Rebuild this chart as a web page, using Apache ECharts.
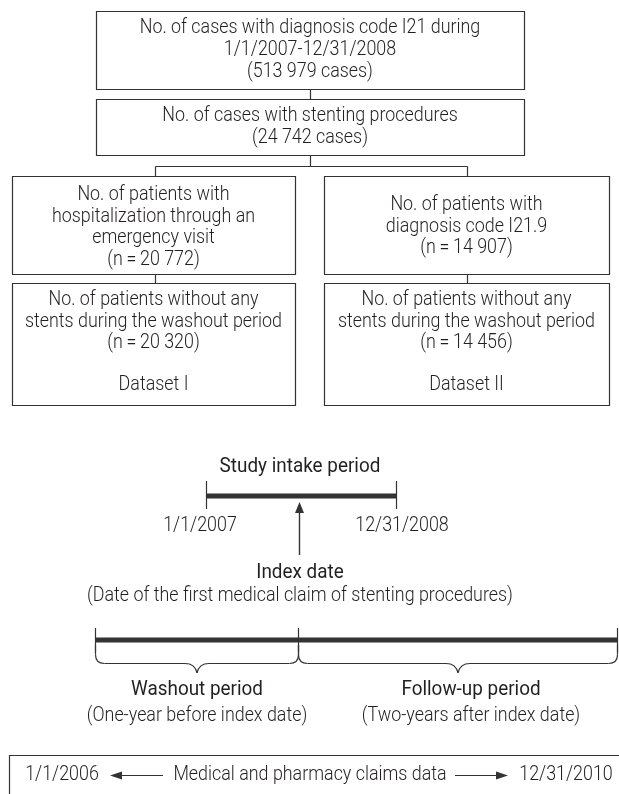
<!DOCTYPE html>
<html>
<head>
<meta charset="utf-8">
<script src="https://cdn.jsdelivr.net/npm/echarts@6/dist/echarts.min.js"></script>
<style>html,body{margin:0;padding:0;background:#fff}#c{width:619px;height:794px}</style>
</head>
<body>
<div id="c"></div>
<script>
// ---- content ----
const caseCounts = ["513 979", "24 742"];
const patientCounts = ["20 772", "14 907", "20 320", "14 456"];
const datasetNames = ["Dataset I", "Dataset II"];
const EQ = "\u2009=\u2009";
const box1Lines = ["No. of cases with diagnosis code I21 during", "1/1/2007-12/31/2008", "(" + caseCounts[0] + " cases)"];
const box2Lines = ["No. of cases with stenting procedures", "(" + caseCounts[1] + " cases)"];
const box3LLines = ["No. of patients with", "hospitalization through an", "emergency visit", "(n" + EQ + patientCounts[0] + ")"];
const box3RLines = ["No. of patients with", "diagnosis code I21.9", "(n" + EQ + patientCounts[1] + ")"];
const box4LLines = ["No. of patients without any", "stents during the washout period", "(n" + EQ + patientCounts[2] + ")"];
const box4RLines = ["No. of patients without any", "stents during the washout period", "(n" + EQ + patientCounts[3] + ")"];
const intakeLabels = ["Study intake period", "1/1/2007", "12/31/2008"];
const indexLabels = ["Index date", "(Date of the first medical claim of stenting procedures)"];
const periodLabels = ["Washout period", "(One-year before index date)", "Follow-up period", "(Two-years after index date)"];
const claimsLabels = ["1/1/2006", "Medical and pharmacy claims data", "12/31/2010"];

// ---- style / layout ----
const FF = "Roboto, 'Liberation Sans', sans-serif";
const FW = '300', FWH = '400';
const TXT = '#231f20', LN = '#333';
const FS = 20, FSH = 21, LH = 21.7;

// condensed look: horizontal scale from measured widths
const mctx = document.createElement('canvas').getContext('2d');
function mw(t, fs, fw) { mctx.font = fw + ' ' + fs + 'px ' + FF; return mctx.measureText(t).width; }
const SX = (154 / mw("No. of patients with", FS, FW) + 254 / mw("stents during the washout period", FS, FW)) / 2;
const SXH = (162 / mw("Study intake period", FSH, FWH) + 131 / mw("Washout period", FSH, FWH)) / 2;

const g = [];
function rect(x, y, w, h) {
  g.push({type: 'rect', shape: {x: x + 0.5, y: y + 0.5, width: w, height: h},
    style: {fill: '#fff', stroke: LN, lineWidth: 1.2}});
}
function line(x1, y1, x2, y2, w) {
  g.push({type: 'line', shape: {x1, y1, x2, y2}, style: {stroke: LN, lineWidth: w || 1.2}});
}
function curve(x1, y1, cx, cy, x2, y2) {
  g.push({type: 'bezierCurve', shape: {x1, y1, x2, y2, cpx1: cx, cpy1: cy},
    style: {fill: 'none', stroke: LN, lineWidth: 1.2}});
}
function text(t, x, y, head) {
  g.push({type: 'text', x, y, scaleX: head ? SXH : SX,
    style: {text: t, fill: TXT, font: (head ? FWH : FW) + ' ' + (head ? FSH : FS) + 'px ' + FF,
      textAlign: 'center', textVerticalAlign: 'middle'}});
}
function lines(arr, cx, y0, lh) {
  arr.forEach((t, i) => text(t, cx, y0 + i * (lh || LH)));
}
function tri(pts) {
  g.push({type: 'polygon', shape: {points: pts}, style: {fill: LN}});
}

// flowchart boxes
rect(96, 11, 428, 78);   lines(box1Lines, 310, 28, 22);
rect(96, 99, 428, 56);   lines(box2Lines, 310, 116, 22);
rect(12, 176, 283, 98);  lines(box3LLines, 153.5, 195);
rect(324, 176, 285, 98); lines(box3RLines, 466.5, 205);
rect(12, 283, 283, 122); lines(box4LLines, 153.5, 300); text(datasetNames[0], 153.5, 385);
rect(324, 283, 285, 122); lines(box4RLines, 466.5, 300); text(datasetNames[1], 466.5, 385);
// connectors
line(310.5, 89.5, 310.5, 99.5);
line(310.5, 155.5, 310.5, 166.5);
line(155.5, 166.5, 467.5, 166.5);
line(155.5, 166.5, 155.5, 176.5);
line(467.5, 166.5, 467.5, 176.5);
line(155.5, 274.5, 155.5, 283.5);
line(467.5, 274.5, 467.5, 283.5);

// study intake period
text(intakeLabels[0], 300, 467, true);
line(206.5, 481, 206.5, 509);
line(396.5, 481, 396.5, 509);
line(206.5, 496, 396.5, 496, 5);
text(intakeLabels[1], 200, 526);
text(intakeLabels[2], 402, 526);
line(299.5, 555, 299.5, 510, 1.4);
tri([[299.5, 502], [295, 513], [304, 513]]);
text(indexLabels[0], 300, 573, true);
text(indexLabels[1], 300, 596);

// bottom timeline
line(95.5, 628, 95.5, 652);
line(298.5, 628, 298.5, 652);
line(617.5, 628, 617.5, 652);
line(95.5, 640, 618, 640, 5);
function brace(xa, xb, xt, yTop, yH, yTip) {
  const r = 9;
  line(xa, yTop, xa, yH - r);
  curve(xa, yH - r, xa, yH, xa + r, yH);
  line(xa + r, yH, xt - 12, yH);
  curve(xt - 12, yH, xt - 2, yH, xt, yTip);
  curve(xt, yTip, xt + 2, yH, xt + 12, yH);
  line(xt + 12, yH, xb - r, yH);
  curve(xb - r, yH, xb, yH, xb, yH - r);
  line(xb, yH - r, xb, yTop);
}
brace(95.5, 298.5, 197, 645, 663.5, 673);
brace(298.5, 617.5, 458, 645, 663.5, 673);
text(periodLabels[0], 197, 690, true);
text(periodLabels[1], 197, 716);
text(periodLabels[2], 471, 690, true);
text(periodLabels[3], 471, 716);

// claims data box
rect(9, 755, 660, 60);
text(claimsLabels[0], 62, 775);
text(claimsLabels[1], 310, 775);
text(claimsLabels[2], 566, 775);
line(120, 775.5, 163, 775.5, 1.2);
tri([[110, 775.5], [122, 771.5], [122, 779.5]]);
line(455, 775.5, 498, 775.5, 1.2);
tri([[508, 775.5], [496, 771.5], [496, 779.5]]);

const chart = echarts.init(document.getElementById('c'), null, {renderer: 'canvas'});
chart.setOption({animation: false, backgroundColor: '#fff', graphic: {elements: g}});
</script>
</body>
</html>
